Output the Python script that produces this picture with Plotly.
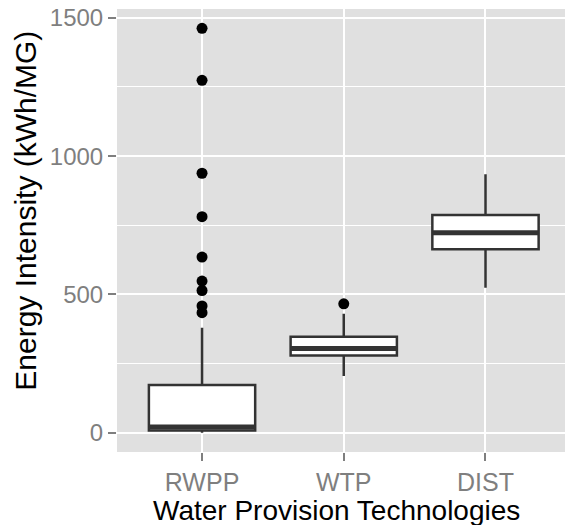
import plotly.graph_objects as go

categories = ["RWPP", "WTP", "DIST"]
q1 = [8, 279, 663]
median = [20, 304, 723]
q3 = [172, 347, 787]
lower_whisker = [0, 205, 524]
upper_whisker = [379, 430, 934]
rwpp_outliers = [1462, 1274, 938, 781, 635, 548, 514, 458, 434]
wtp_outliers = [466]
y_ticks = [0, 500, 1000, 1500]

positions = list(range(len(categories)))
half = 0.375
line_col = "#333333"

fig = go.Figure()
for i, cat in enumerate(categories):
    fig.add_trace(go.Box(
        x=[positions[i]], q1=[q1[i]], median=[median[i]], q3=[q3[i]],
        lowerfence=[lower_whisker[i]], upperfence=[upper_whisker[i]],
        width=0.75, whiskerwidth=0, fillcolor="white",
        line=dict(color=line_col, width=2.5), boxpoints=False,
        name=cat, showlegend=False, hoverinfo="skip"))
    fig.add_trace(go.Scatter(
        x=[positions[i] - half, positions[i] + half], y=[median[i], median[i]],
        mode="lines", line=dict(color=line_col, width=5),
        showlegend=False, hoverinfo="skip"))

outlier_sets = [rwpp_outliers, wtp_outliers]
for i, outs in enumerate(outlier_sets):
    fig.add_trace(go.Scatter(
        x=[positions[i]] * len(outs), y=outs, mode="markers",
        marker=dict(color="black", size=11),
        showlegend=False, hoverinfo="skip"))

fig.update_layout(
    width=565, height=525,
    margin=dict(l=117, r=0, t=9, b=73),
    plot_bgcolor="#e0e0e0", paper_bgcolor="white",
    font=dict(family="Liberation Sans, Arial, sans-serif"),
    xaxis=dict(range=[-0.6, 2.561], tickvals=positions, ticktext=categories,
               showgrid=True, gridcolor="white", gridwidth=2, zeroline=False,
               ticks="outside", ticklen=8, tickwidth=2, tickcolor="#7f7f7f",
               tickfont=dict(size=25, color="#7f7f7f")),
    yaxis=dict(range=[-70, 1532], tickvals=y_ticks,
               showgrid=True, gridcolor="white", gridwidth=2, zeroline=False,
               ticks="outside", ticklen=8, tickwidth=2, tickcolor="#7f7f7f",
               tickfont=dict(size=24, color="#7f7f7f"),
               minor=dict(dtick=250, tick0=0, showgrid=True, gridcolor="white",
                          gridwidth=1, ticks="")),
    annotations=[
        dict(text="Water Provision Technologies", xref="paper", yref="paper",
             x=0.491, y=-0.131, showarrow=False, font=dict(size=28, color="black"),
             xanchor="center", yanchor="middle"),
        dict(text="Energy Intensity (kWh/MG)", xref="paper", yref="paper",
             x=-0.205, y=0.545, showarrow=False, textangle=-90,
             font=dict(size=30, color="black"), xanchor="center", yanchor="middle"),
    ],
)

fig.write_html("out.html", config={"displayModeBar": False},
               post_script="document.body.style.margin='0';document.body.style.overflow='hidden';")
